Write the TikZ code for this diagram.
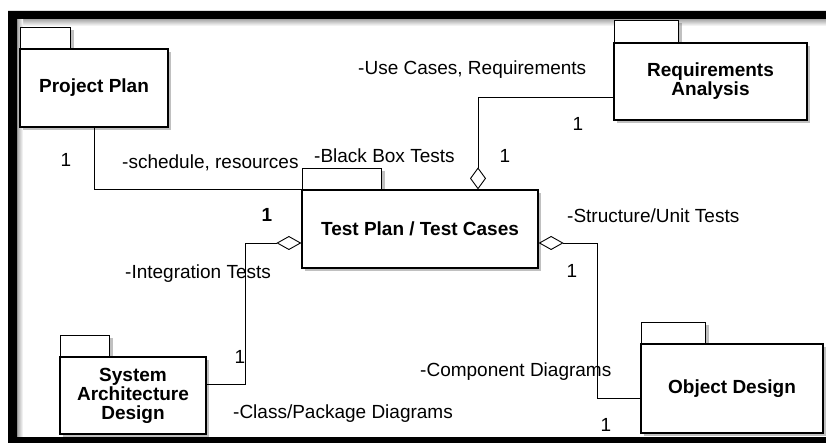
\documentclass[tikz,border=0pt]{standalone}
\usepackage{fontspec}
\setmainfont{Liberation Sans}
\usetikzlibrary{arrows.meta,shadows}
\begin{document}
\begin{tikzpicture}[x=1pt,y=-1pt,
  shad/.style={drop shadow={shadow xshift=3pt, shadow yshift=-3pt, opacity=0.35, fill=black!70}},
  pkg/.style={draw, line width=1.2pt, fill=white, align=center, inner sep=0pt, shad,
    font=\fontsize{19}{19}\selectfont\bfseries},
  tab/.style={draw, line width=1.2pt, fill=white, inner sep=0pt, anchor=south west, shad},
  lbl/.style={anchor=west, inner sep=0pt, text height=13pt, text depth=0pt,
    font=\fontsize{19}{19}\selectfont},
  mult/.style={inner sep=0pt, text height=13pt, text depth=0pt,
    font=\fontsize{19}{19}\selectfont},
  conn/.style={line width=0.9pt},
  aggv/.style={conn, -{Diamond[open, length=22pt, width=16pt, line width=0.9pt]}},
  aggh/.style={conn, -{Diamond[open, length=25pt, width=14pt, line width=0.9pt]}}
]
\useasboundingbox (0,0) rectangle (826,443);
\fill[white] (0,0) rectangle (826,443);
% frame with its soft inner shadow
\shade[top color=black!35, bottom color=white] (17,19) rectangle (826,26);
\shade[left color=black!35, right color=white] (17,19) rectangle (23,437);
\fill[black, even odd rule] (8,11) rectangle (826,443) (17,19) rectangle (826,437);

% tabs
\node[tab, minimum width=50pt, minimum height=21pt] (pptab) at (20,49) {};
\node[tab, minimum width=64pt, minimum height=22pt] (reqtab) at (614,43) {};
\node[tab, minimum width=79pt, minimum height=21pt] (tptab) at (302,190) {};
\node[tab, minimum width=49pt, minimum height=21pt] (satab) at (60,357) {};
\node[tab, minimum width=64pt, minimum height=21pt] (odtab) at (641,344) {};

% package bodies
\node[pkg, minimum width=148pt, minimum height=78pt] (pp) at (94,88) {Project Plan};
\node[pkg, minimum width=193pt, minimum height=77pt] (req) at (710.5,81.5) {Requirements\\Analysis};
\node[pkg, minimum width=236pt, minimum height=78pt] (tp) at (420,229) {Test Plan / Test Cases};
\node[pkg, minimum width=146pt, minimum height=77pt] (sa) at (133,395.5) {System\\Architecture\\Design};
\node[pkg, minimum width=182pt, minimum height=89pt] (od) at (732,388.5) {Object Design};

% bends
\coordinate (lbend) at (245,243);
\coordinate (rbend) at (597,243);

% connectors
\draw[conn] (pp.south) |- (tp.north west);
\draw[aggv] ([yshift=-15.5pt]req.west) -| ([xshift=58pt]tp.north);
\draw[aggh] ([yshift=11.5pt]sa.east) -| (lbend) -- ([yshift=-14pt]tp.west);
\draw[aggh] ([yshift=-9.5pt]od.west) -| (rbend) -- ([yshift=-14pt]tp.east);

% labels
\node[lbl] (l1) at (358,68) {-Use Cases, Requirements};
\node[lbl] (l2) at (314,156) {-Black Box Tests};
\node[lbl] (l3) at (122,162) {-schedule, resources};
\node[lbl] (l4) at (567,216) {-Structure/Unit Tests};
\node[lbl] (l5) at (125,272) {-Integration Tests};
\node[lbl] (l6) at (420,370) {-Component Diagrams};
\node[lbl] (l7) at (233,412) {-Class/Package Diagrams};

% multiplicities
\node[mult] (m1) at (578,124) {1};
\node[mult] (m2) at (505,156) {1};
\node[mult] (m3) at (66,160) {1};
\node[mult, font=\fontsize{19}{19}\selectfont\bfseries] (m4) at (267,215) {1};
\node[mult] (m5) at (572,271) {1};
\node[mult] (m6) at (240,357) {1};
\node[mult] (m7) at (606,425) {1};
\end{tikzpicture}
\end{document}
